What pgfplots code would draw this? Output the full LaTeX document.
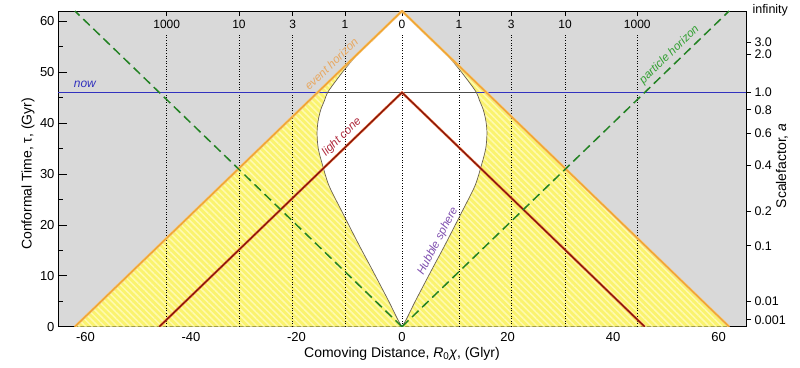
\documentclass[border=0pt]{standalone}
\usepackage{pgfplots}
\pgfplotsset{compat=1.18}
\usepackage{fontspec}
\setmainfont{Liberation Sans}
\usetikzlibrary{patterns.meta}
\definecolor{bggray}{RGB}{217,217,217}
\definecolor{yfill}{RGB}{250,243,110}
\definecolor{ystripe}{RGB}{255,250,175}
\definecolor{ehorange}{RGB}{240,165,50}
\definecolor{ehlabel}{RGB}{232,168,96}
\definecolor{lcred}{RGB}{130,20,10}
\definecolor{lcglow}{RGB}{235,110,60}
\definecolor{lclabel}{RGB}{176,40,60}
\definecolor{phgreen}{RGB}{35,130,35}
\definecolor{phlabel}{RGB}{50,160,50}
\definecolor{nowblue}{RGB}{50,50,190}
\definecolor{hsline}{RGB}{105,95,80}
\definecolor{hspurple}{RGB}{128,80,176}

\begin{document}
\begin{tikzpicture}
\begin{axis}[name=ax,
  width=688pt, height=315.7pt, scale only axis,
  xmin=-65.2, xmax=65.2, ymin=0, ymax=62,
  axis background/.style={fill=bggray},
  axis line style={black, line width=0.9pt},
  xtick={-60,-40,...,60}, ytick={0,10,...,60},
  minor x tick num=1, minor y tick num=1,
  tick pos=left, tick align=inside,
  major tick length=9pt, minor tick length=5pt,
  tick style={black, line width=0.7pt},
  tick label style={font=\fontsize{13}{15}\selectfont},
  xticklabel style={yshift=-2pt},
  /pgf/number format/assume math mode=true,
]
% yellow hatched region inside the event horizon
\addplot[draw=none, fill=yfill,
  postaction={pattern={Lines[angle=-45,distance=4.5pt,line width=1.5pt]}, pattern color=ystripe}]
  coordinates {(-62,0) (0,62) (62,0)} -- cycle;
% white region inside the Hubble sphere
\addplot[draw=none, fill=white] coordinates {
  (0,0) (0.8,1.4) (2.55,5.07) (5.7,11.3) (8.07,15.9) (11.38,22.6) (13.84,27.7)
  (15.05,31.7) (15.87,35.0) (16.1,38.0) (15.9,40.4) (15.4,42.6) (14.7,44.4)
  (14.1,46.0) (12.45,48.4) (10.5,51.0) (8.2,53.8) (0,62)
  (-8.2,53.8) (-10.5,51.0) (-12.45,48.4) (-14.1,46.0) (-14.7,44.4) (-15.4,42.6)
  (-15.9,40.4) (-16.1,38.0) (-15.87,35.0) (-15.05,31.7) (-13.84,27.7) (-11.38,22.6)
  (-8.07,15.9) (-5.7,11.3) (-2.55,5.07) (-0.8,1.4) (0,0)} -- cycle;
% redshift dotted lines
\pgfplotsinvokeforeach{-44.6,-30.9,-20.7,-10.8,0,10.8,20.7,30.9,44.6}{
  \addplot[black, dotted, line width=0.6pt] coordinates {(#1,0) (#1,57.2)};
  \addplot[black, line width=0.6pt] coordinates {(#1,62) (#1,61)};
}
% now line
\addplot[nowblue, line width=0.8pt] coordinates {(-65.2,46) (65.2,46)};
\addplot[black!70, line width=0.8pt] coordinates {(-14.1,46) (14.1,46)};
% Hubble sphere
\addplot[hsline, line width=0.7pt, smooth] coordinates {
  (0,0) (0.8,1.4) (2.55,5.07) (5.7,11.3) (8.07,15.9) (11.38,22.6) (13.84,27.7)
  (15.05,31.7) (15.87,35.0) (16.1,38.0) (15.9,40.4) (15.4,42.6) (14.7,44.4)
  (14.1,46.0) (12.45,48.4) (10.5,51.0) (8.2,53.8)};
\addplot[hsline, line width=0.7pt, smooth] coordinates {
  (0,0) (-0.8,1.4) (-2.55,5.07) (-5.7,11.3) (-8.07,15.9) (-11.38,22.6) (-13.84,27.7)
  (-15.05,31.7) (-15.87,35.0) (-16.1,38.0) (-15.9,40.4) (-15.4,42.6) (-14.7,44.4)
  (-14.1,46.0) (-12.45,48.4) (-10.5,51.0) (-8.2,53.8)};
% event horizon
\addplot[ehorange!60!white, line width=2.6pt] coordinates {(-62,0) (0,62) (62,0)};
\addplot[ehorange, line width=1.4pt] coordinates {(-62,0) (0,62) (62,0)};
% light cone
\addplot[lcglow, line width=2.4pt] coordinates {(-46,0) (0,46) (46,0)};
\addplot[lcred, line width=1.2pt] coordinates {(-46,0) (0,46) (46,0)};
% particle horizon
\addplot[phgreen, line width=1.5pt, dash pattern=on 9pt off 5pt] coordinates {(0,0) (-62,62)};
\addplot[phgreen, line width=1.5pt, dash pattern=on 9pt off 5pt] coordinates {(0,0) (62,62)};
% labels
\node[text=nowblue, font=\itshape\fontsize{12}{14}\selectfont] at (axis cs:-60.1,47.6) {now};
\node[text=ehlabel, rotate=44, font=\itshape\fontsize{11.5}{13}\selectfont] at (axis cs:-13.4,51.6) {event horizon};
\node[text=lclabel, rotate=44, font=\itshape\fontsize{11.5}{13}\selectfont] at (axis cs:-11.4,37.3) {light cone};
\node[text=hspurple, rotate=62.6, font=\itshape\fontsize{11.5}{13}\selectfont] at (axis cs:6.8,16.8) {Hubble sphere};
\node[text=phlabel, rotate=44, font=\itshape\fontsize{11.5}{13}\selectfont] at (axis cs:50.7,53.4) {particle horizon};
% redshift labels
\node[font=\fontsize{12}{14}\selectfont] at (axis cs:-44.6,59.3) {1000};
\node[font=\fontsize{12}{14}\selectfont] at (axis cs:-30.9,59.3) {10};
\node[font=\fontsize{12}{14}\selectfont] at (axis cs:-20.7,59.3) {3};
\node[font=\fontsize{12}{14}\selectfont] at (axis cs:-10.8,59.3) {1};
\node[font=\fontsize{12}{14}\selectfont] at (axis cs:0,59.3) {0};
\node[font=\fontsize{12}{14}\selectfont] at (axis cs:10.8,59.3) {1};
\node[font=\fontsize{12}{14}\selectfont] at (axis cs:20.7,59.3) {3};
\node[font=\fontsize{12}{14}\selectfont] at (axis cs:30.9,59.3) {10};
\node[font=\fontsize{12}{14}\selectfont] at (axis cs:44.6,59.3) {1000};
\end{axis}
\begin{axis}[
  width=688pt, height=315.7pt, scale only axis,
  xmin=-65.2, xmax=65.2, ymin=0, ymax=62,
  axis x line=none, axis y line*=right,
  axis line style={black, line width=0.9pt},
  ytick={1.36,5.07,15.9,22.6,31.7,38.0,42.6,46,53.5,55.9},
  yticklabels={0.001,0.01,0.1,0.2,0.4,0.6,0.8,1.0,2.0,3.0},
  tick align=outside, major tick length=5pt,
  tick style={black, line width=0.7pt},
  tick label style={font=\fontsize{12.5}{14}\selectfont},
]
\end{axis}
\node[anchor=west, font=\fontsize{12.5}{14}\selectfont] at ([xshift=3pt,yshift=1pt]ax.north east) {infinity};
\node[font=\fontsize{14}{16}\selectfont] at ([yshift=-27.3pt]ax.south) {Comoving Distance, \textit{R}\textsubscript{0}\textit{χ}, (Glyr)};
\node[rotate=90, font=\fontsize{14}{16}\selectfont] at ([xshift=-30pt,yshift=-5pt]ax.west) {Conformal Time, τ, (Gyr)};
\node[rotate=90, font=\fontsize{14}{16}\selectfont] at ([xshift=36pt,yshift=3pt]ax.east) {Scalefactor, \textit{a}};
\path ([shift={(-58pt,-41.3pt)}]ax.south west) rectangle ([shift={(54pt,11pt)}]ax.north east);
\end{tikzpicture}
\end{document}
